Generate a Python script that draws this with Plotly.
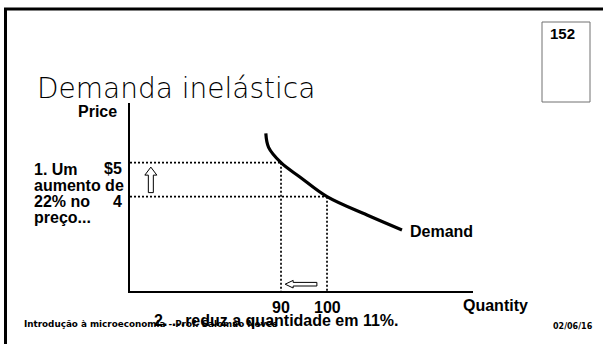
import plotly.graph_objects as go

# demand curve
quantity = [86.7, 87.3, 90.0, 94.1, 100.0, 108.7, 116.3]
price = [5.86, 5.45, 5.00, 4.58, 4.00, 3.46, 3.02]

# the two points compared on the slide
qty_points = [90, 100]
qty_labels = ["90", "100"]
price_points = [5, 4]
price_labels = ["$5", "4"]

left_text = ["1. Um", "aumento de", "22% no", "preço..."]

W, H = 603, 344
q_range = [57.17, 131.74]
p_range = [1.226, 6.756]
plot_px = dict(left=130, right=473, top=103, bottom=291)

BOLD = "Liberation Sans, Arial"
GOTHIC = "DejaVu Sans, Verdana, sans-serif"
LABEL = 16


def px_x(x):
    return x / W


def px_y(y):
    return 1 - y / H


# pixels per data unit, used for the outline arrows
q_px = (plot_px["right"] - plot_px["left"]) / (q_range[1] - q_range[0])
p_px = (plot_px["bottom"] - plot_px["top"]) / (p_range[1] - p_range[0])


def up_arrow(q, p0, p1, sw=2.5, hw=6, hl=8):
    a, b, c = sw / q_px, hw / q_px, hl / p_px
    xs = [q - a, q - a, q - b, q, q + b, q + a, q + a, q - a]
    ys = [p0, p1 - c, p1 - c, p1, p1 - c, p1 - c, p0, p0]
    return xs, ys


def left_arrow(p, q0, q1, sh=1.8, hh=3.8, hl=8):
    a, b, c = sh / p_px, hh / p_px, hl / q_px
    xs = [q0, q1 + c, q1 + c, q1, q1 + c, q1 + c, q0, q0]
    ys = [p - a, p - a, p - b, p, p + b, p + a, p + a, p - a]
    return xs, ys


fig = go.Figure()

# dotted guide lines from the axes to the curve
gx, gy = [], []
for q, p in zip(qty_points, price_points):
    gx += [q_range[0], q, None, q, q, None]
    gy += [p, p, None, p, p_range[0], None]
fig.add_trace(go.Scatter(x=gx, y=gy, mode="lines", hoverinfo="skip",
                         line=dict(color="black", width=1.7, dash="2px,2px")))

fig.add_trace(go.Scatter(x=quantity, y=price, mode="lines", hoverinfo="skip",
                         line=dict(color="black", width=3.2, shape="spline")))

# hollow arrows: price up, quantity down
ux, uy = up_arrow(61.7, price_points[1] + 0.12, price_points[0] - 0.13)
lx, ly = left_arrow(p_range[0] + 0.2, qty_points[1] - 2.2, qty_points[0] + 0.9)
for xs, ys in [(ux, uy), (lx, ly)]:
    fig.add_trace(go.Scatter(x=xs, y=ys, mode="lines", fill="toself",
                             fillcolor="white", hoverinfo="skip",
                             line=dict(color="black", width=1)))

ann = []
for q, t in zip(qty_points, qty_labels):
    ann.append(dict(x=q, y=px_y(307), yref="paper", text=t, xanchor="center"))
for p, t in zip(price_points, price_labels):
    ann.append(dict(x=px_x(124), xref="paper", y=p, text=t, xanchor="right",
                    yshift=-6 if t == "$5" else -5))
for i, t in enumerate(left_text):
    ann.append(dict(x=px_x(32), xref="paper", y=px_y(169.5 + 16 * i), yref="paper",
                    text=t, xanchor="left"))
ann.append(dict(x=quantity[-1], y=price[-1], text="Demand", xanchor="left",
                xshift=6, yshift=-1.5))
ann.append(dict(x=px_x(119), xref="paper", y=px_y(111), yref="paper", text="Price",
                xanchor="right"))
ann.append(dict(x=px_x(495), xref="paper", y=px_y(305), yref="paper", text="Quantity",
                xanchor="center"))
ann.append(dict(x=px_x(152), xref="paper", y=px_y(320.5), yref="paper",
                text="2. ...reduz a quantidade em 11%.", xanchor="left"))
for a in ann:
    a.setdefault("xref", "x")
    a.setdefault("yref", "y")
    a["showarrow"] = False
    a["yanchor"] = "middle"
    a["font"] = dict(family=BOLD, size=LABEL, color="black", weight="bold")

# slide furniture
ann.append(dict(x=px_x(35), y=px_y(88), xref="paper", yref="paper",
                text="Demanda inelástica", showarrow=False, xanchor="left", yanchor="middle",
                font=dict(family=GOTHIC, size=28, color="black", weight=200)))
ann.append(dict(x=px_x(548), y=px_y(33.5), xref="paper", yref="paper", text="152",
                showarrow=False, xanchor="left", yanchor="middle",
                font=dict(family=BOLD, size=15, color="black", weight="bold")))
ann.append(dict(x=px_x(22), y=px_y(324), xref="paper", yref="paper",
                text="Introdução à microeconomia - Prof. Salomão Neves", showarrow=False,
                xanchor="left", yanchor="middle",
                font=dict(family=GOTHIC, size=8.8, color="black", weight="bold")))
ann.append(dict(x=px_x(551), y=px_y(326), xref="paper", yref="paper", text="02/06/16",
                showarrow=False, xanchor="left", yanchor="middle",
                font=dict(family=GOTHIC, size=8.0, color="black", weight="bold")))

shapes = [
    dict(type="line", xref="paper", yref="paper", x0=px_x(4), x1=1, y0=px_y(9), y1=px_y(9),
         line=dict(color="black", width=3)),
    dict(type="line", xref="paper", yref="paper", x0=px_x(5.5), x1=px_x(5.5), y0=px_y(8), y1=0,
         line=dict(color="black", width=3)),
    dict(type="rect", xref="paper", yref="paper", x0=px_x(542), x1=px_x(590),
         y0=px_y(102), y1=px_y(22), line=dict(color="#707070", width=1)),
]

axis_style = dict(showline=True, linecolor="black", linewidth=2, showgrid=False,
                  zeroline=False, showticklabels=False, ticks="")
fig.update_xaxes(range=q_range, domain=[px_x(plot_px["left"]), px_x(plot_px["right"])],
                 **axis_style)
fig.update_yaxes(range=p_range, domain=[px_y(plot_px["bottom"]), px_y(plot_px["top"])],
                 **axis_style)

fig.update_layout(width=W, height=H, margin=dict(l=0, r=0, t=0, b=0),
                  paper_bgcolor="white", plot_bgcolor="white", showlegend=False,
                  annotations=ann, shapes=shapes)
# the page body has an 8px default margin; drop it so the slide sits at 0,0
fig.write_html("out.html", config={"displayModeBar": False},
               post_script="document.body.style.margin='0';")
